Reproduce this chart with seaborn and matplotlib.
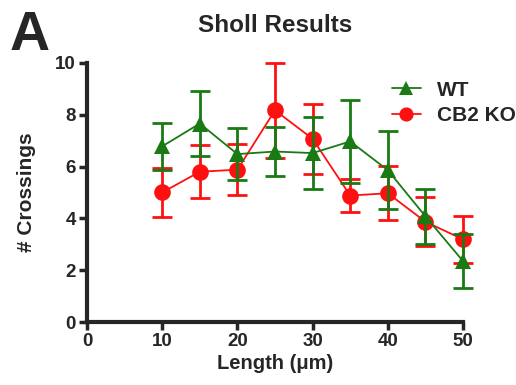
import matplotlib
matplotlib.use("Agg")
import matplotlib.pyplot as plt
import pandas as pd
import seaborn as sns

# Sholl analysis: mean crossings and error at each radius
length = [10, 15, 20, 25, 30, 35, 40, 45, 50]
wt_mean = [6.78, 7.66, 6.48, 6.58, 6.52, 6.97, 5.86, 4.08, 2.35]
wt_err = [0.92, 1.26, 1.00, 0.94, 1.40, 1.60, 1.51, 1.06, 1.05]
ko_mean = [5.0, 5.8, 5.88, 8.17, 7.07, 4.88, 4.97, 3.87, 3.19]
ko_err = [0.95, 1.02, 0.98, 1.83, 1.34, 0.63, 1.05, 0.94, 0.90]

green = "#1a7a14"
red = "#ff1010"

df = pd.DataFrame({
    "length": length * 2,
    "crossings": wt_mean + ko_mean,
    "group": ["WT"] * len(length) + ["CB2 KO"] * len(length),
})

sns.set_style("ticks")
plt.rcParams["font.family"] = ["Liberation Sans", "DejaVu Sans"]

fig = plt.figure(figsize=(5.16, 3.85), dpi=100)
ax = fig.add_axes([0.1686, 0.1636, 0.7287, 0.673])

# error bars first, WT drawn on top of KO
ko_eb = ax.errorbar(length, ko_mean, yerr=ko_err, fmt="none", ecolor=red,
                    elinewidth=2, capsize=7, capthick=2, zorder=2)
wt_eb = ax.errorbar(length, wt_mean, yerr=wt_err, fmt="none", ecolor=green,
                    elinewidth=2, capsize=7, capthick=2, zorder=4)
for eb in (ko_eb, wt_eb):
    for part in eb.lines[1] + eb.lines[2]:
        part.set_clip_on(False)

sns.lineplot(data=df, x="length", y="crossings", hue="group", style="group",
             hue_order=["WT", "CB2 KO"], style_order=["WT", "CB2 KO"],
             palette={"WT": green, "CB2 KO": red},
             markers={"WT": "^", "CB2 KO": "o"}, dashes=False,
             markersize=12, markeredgewidth=0, linewidth=1.3, ax=ax)

# put WT lines above KO, let the markers at 50 spill past the axis
for line in ax.lines:
    line.set_clip_on(False)
    if line.get_color() == green:
        line.set_zorder(5)
    elif line.get_color() == red:
        line.set_zorder(3)

ax.set_xlim(0, 50)
ax.set_ylim(0, 10)
ax.set_xticks([0, 10, 20, 30, 40, 50])
ax.set_yticks([0, 2, 4, 6, 8, 10])
ax.tick_params(width=2.5, length=6, labelsize=13.5, direction="out", pad=2)
for lab in ax.get_xticklabels() + ax.get_yticklabels():
    lab.set_fontweight("bold")
for side in ["left", "bottom"]:
    ax.spines[side].set_linewidth(3)
ax.spines["top"].set_visible(False)
ax.spines["right"].set_visible(False)

ax.set_xlabel("Length (μm)", fontsize=14.5, fontweight="bold", labelpad=3)
ax.set_ylabel("# Crossings", fontsize=15, fontweight="bold", labelpad=14)
ax.set_title("Sholl Results", fontsize=17.5, fontweight="bold", pad=22)

leg = ax.legend(loc="upper right", bbox_to_anchor=(1.175, 0.98), frameon=False,
                fontsize=15, handlelength=1.4, labelspacing=0.3,
                handletextpad=0.8, borderaxespad=0.2, markerscale=0.85)
for t in leg.get_texts():
    t.set_fontweight("bold")

fig.text(0.018, 0.87, "A", fontsize=40, fontweight="bold")

plt.savefig("out.png", dpi=100)
